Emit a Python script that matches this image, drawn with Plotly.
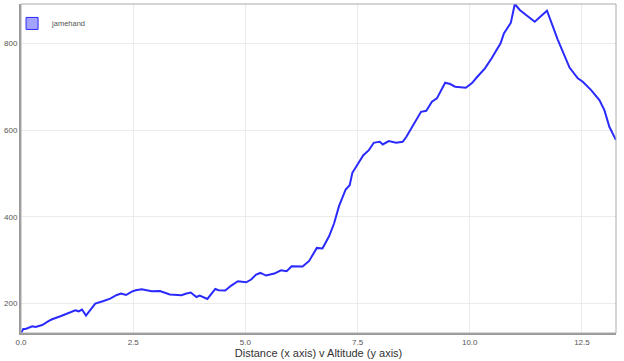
import plotly.graph_objects as go

series_name = "jamehand"
distance = [0.0, 0.051, 0.102, 0.251, 0.324, 0.399, 0.472, 0.621, 0.694, 0.878,
            1.100, 1.211, 1.286, 1.359, 1.448, 1.530, 1.654, 1.840, 1.987, 2.135,
            2.231, 2.341, 2.468, 2.557, 2.690, 2.911, 3.095, 3.317, 3.576, 3.687,
            3.783, 3.909, 3.982, 4.153, 4.330, 4.404, 4.552, 4.685, 4.834, 5.018,
            5.129, 5.239, 5.335, 5.461, 5.645, 5.794, 5.920, 6.031, 6.275, 6.421,
            6.592, 6.718, 6.865, 6.976, 7.086, 7.235, 7.324, 7.384, 7.494, 7.628,
            7.752, 7.862, 7.938, 7.996, 8.062, 8.195, 8.359, 8.506, 8.588, 8.809,
            8.914, 9.031, 9.157, 9.268, 9.452, 9.563, 9.674, 9.911, 10.044, 10.169,
            10.339, 10.488, 10.687, 10.761, 10.916, 11.004, 11.115, 11.448, 11.581, 11.721,
            11.965, 12.224, 12.408, 12.519, 12.705, 12.889, 13.000, 13.111, 13.259]
altitude = [132.2, 141.4, 141.4, 147.6, 146.0, 147.6, 150.6, 159.9, 163.8, 170.7,
            179.9, 184.6, 182.2, 186.2, 172.3, 184.5, 200.0, 206.0, 211.5, 219.8,
            223.1, 219.8, 227.7, 230.7, 233.0, 228.4, 229.1, 220.8, 219.1, 223.1,
            225.4, 215.2, 218.5, 210.6, 233.7, 230.7, 230.0, 241.5, 251.4, 249.1,
            255.4, 266.9, 270.6, 264.6, 269.2, 276.8, 274.5, 286.0, 285.4, 298.3,
            328.3, 326.9, 355.2, 384.5, 424.5, 463.0, 472.9, 501.3, 519.0, 542.1,
            553.6, 570.5, 572.1, 572.8, 566.8, 574.4, 570.5, 572.8, 584.3, 624.5,
            642.0, 644.3, 665.1, 672.9, 708.9, 705.9, 699.7, 697.3, 707.5, 722.7,
            742.1, 765.2, 799.8, 822.8, 847.3, 890.4, 876.6, 849.6, 862.7, 875.0,
            807.4, 744.0, 719.0, 711.2, 692.0, 669.0, 645.9, 607.4, 576.7]
x_ticks = [0.0, 2.5, 5.0, 7.5, 10.0, 12.5]
x_tick_labels = ["0.0", "2.5", "5.0", "7.5", "10.0", "12.5"]
y_ticks = [200, 400, 600, 800]
y_tick_labels = ["200", "400", "600", "800"]
x_title = "Distance (x axis) v Altitude (y axis)"

fig = go.Figure()
fig.add_trace(go.Scatter(
    x=distance, y=altitude, mode="lines", showlegend=False,
    line=dict(color="#2a2aff", width=2),
))
fig.add_trace(go.Bar(
    x=[None], y=[None], name=series_name, showlegend=True,
    marker=dict(color="rgba(90,90,255,0.55)", line=dict(color="#2a2aff", width=1)),
))

tickfont = dict(family="Liberation Sans, Arial, sans-serif", size=8, color="#545454")
fig.update_layout(
    width=624, height=361,
    margin=dict(l=18, r=8, t=4, b=28),
    paper_bgcolor="white", plot_bgcolor="white",
    font=dict(family="Liberation Sans, Arial, sans-serif"),
    showlegend=True,
    legend=dict(x=-0.015, y=0.985, xanchor="left", yanchor="top",
                bgcolor="rgba(0,0,0,0)", font=dict(size=7.5, color="#545454"),
                itemwidth=30),
    xaxis=dict(range=[min(distance), max(distance)], tickvals=x_ticks, ticktext=x_tick_labels,
               showgrid=True, gridcolor="#ebebeb", gridwidth=1, zeroline=False,
               showline=True, linecolor="#999999", linewidth=2, ticks="", ticklen=0,
               tickfont=tickfont,
               title=dict(text=x_title, font=dict(size=11, color="#333333"), standoff=2)),
    yaxis=dict(range=[min(altitude), max(altitude)], tickvals=y_ticks, ticktext=y_tick_labels,
               showgrid=True, gridcolor="#ebebeb", gridwidth=1, zeroline=False,
               showline=True, linecolor="#999999", linewidth=2, ticks="", ticklen=0,
               tickfont=tickfont),
    shapes=[dict(type="rect", xref="paper", yref="paper", x0=0, x1=1, y0=0, y1=1,
                 line=dict(color="#aaaaaa", width=1), layer="above")],
)
fig.write_html("out.html")
